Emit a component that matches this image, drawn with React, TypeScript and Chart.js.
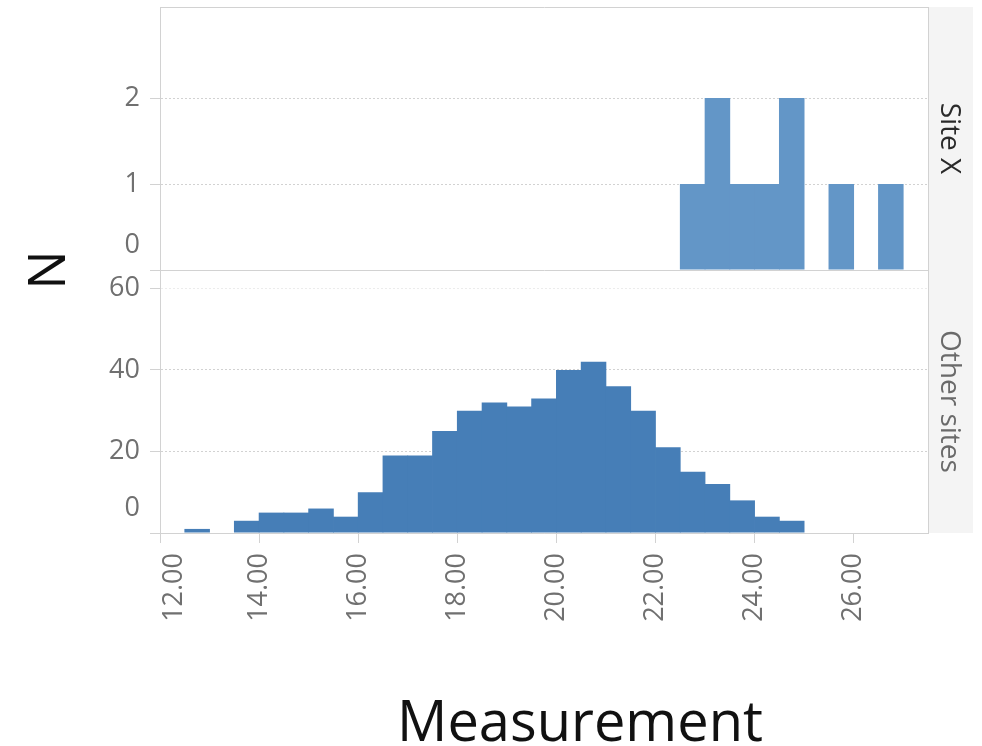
import React, { useEffect, useRef } from 'react';
import { Chart, registerables } from 'chart.js';

Chart.register(...registerables);

// ---------- data ----------
const binWidth = 0.5;

const siteXBinStart = [22.5, 23.0, 23.5, 24.0, 24.5, 25.5, 26.5];
const siteXCounts = [1, 2, 1, 1, 2, 1, 1];

const otherBinStart = [
  12.5, 13.5, 14.0, 14.5, 15.0, 15.5, 16.0, 16.5, 17.0, 17.5, 18.0, 18.5,
  19.0, 19.5, 20.0, 20.5, 21.0, 21.5, 22.0, 22.5, 23.0, 23.5, 24.0, 24.5,
];
const otherCounts = [
  1, 3, 5, 5, 6, 4, 10, 19, 19, 25, 30, 32,
  31, 33, 40, 42, 36, 30, 21, 15, 12, 8, 4, 3,
];

const xTickValues = [12, 14, 16, 18, 20, 22, 24, 26];
const siteXTickValues = [0, 1, 2];
const otherTickValues = [0, 20, 40, 60];

const xMin = 12;
const xMax = 27.5;
const siteXMax = 3.06;
const otherMax = 64.5;

const panelLabels = ['Site X', 'Other sites'];
const xTitle = 'Measurement';
const yTitle = 'N';

// ---------- styles ----------
const FONT = "'Open Sans', 'DejaVu Sans', sans-serif";
const LINE = '#d2d2d2';
const TICK_TEXT = '#707070';

const nudgePlugin = {
  id: 'edgeLabelNudge',
  beforeDraw(chart: any) {
    for (const id of ['ySite', 'yOther']) {
      const s = chart.scales[id];
      if (!s) continue;
      const items = s.getLabelItems();
      for (const it of items) {
        if (it.label === '0' && !it._nudged) {
          it.options.translation[1] -= 25;
          it._nudged = true;
        }
      }
    }
    const xs = chart.scales.x;
    if (xs) {
      const items = xs.getLabelItems();
      if (items[0] && !items[0]._nudged) {
        items[0].options.translation[0] += 14;
        items[0]._nudged = true;
      }
    }
  },
};

const noPad = (s: any) => {
  s.paddingTop = 0;
  s.paddingBottom = 0;
  s.paddingLeft = 0;
  s.paddingRight = 0;
};

const hiddenAxis = (extra: any) => ({
  type: 'linear',
  display: true,
  min: 0,
  max: 1,
  offset: false,
  ticks: { display: false },
  grid: { display: false, drawTicks: false, offset: false },
  border: { display: false },
  ...extra,
});

export default function App() {
  const ref = useRef<HTMLCanvasElement>(null);

  useEffect(() => {
    if (!ref.current) return;
    const dash = (ctx: any) => (ctx.tick && ctx.tick.value === 0 ? [] : [2, 2]);
    const gridColor = (ctx: any) => (ctx.tick && ctx.tick.value === 60 ? '#ececec' : LINE);

    const chart = new Chart(ref.current, {
      type: 'bar',
      data: {
        datasets: [
          {
            label: panelLabels[0],
            data: siteXBinStart.map((b, i) => ({ x: b + binWidth / 2, y: siteXCounts[i] })),
            xAxisID: 'x',
            yAxisID: 'ySite',
            backgroundColor: '#6396c7',
            borderWidth: 0,
            grouped: false,
            barPercentage: 1.03,
            categoryPercentage: 1,
          } as any,
          {
            label: panelLabels[1],
            data: otherBinStart.map((b, i) => ({ x: b + binWidth / 2, y: otherCounts[i] })),
            xAxisID: 'x',
            yAxisID: 'yOther',
            backgroundColor: '#467eb7',
            borderWidth: 0,
            grouped: false,
            barPercentage: 1.03,
            categoryPercentage: 1,
          } as any,
        ],
      },
      options: {
        responsive: false,
        animation: false,
        events: [],
        layout: { padding: { top: 7, right: 9, left: 0, bottom: 0 } },
        plugins: {
          legend: { display: false },
          tooltip: { enabled: false },
          title: { display: false },
        },
        scales: {
          x: {
            type: 'linear',
            position: 'bottom',
            weight: 0,
            min: xMin,
            max: xMax,
            offset: false,
            afterBuildTicks: (s: any) => {
              s.ticks = xTickValues.map((v) => ({ value: v }));
            },
            afterFit: (s: any) => {
              s.height = 151;
              noPad(s);
            },
            ticks: {
              autoSkip: false,
              minRotation: 90,
              maxRotation: 90,
              padding: 10,
              color: TICK_TEXT,
              font: { family: FONT, size: 27 },
              callback: (v: any) => Number(v).toFixed(2),
            },
            grid: {
              display: true,
              offset: false,
              drawOnChartArea: false,
              drawTicks: true,
              tickLength: 10,
              tickColor: LINE,
              color: LINE,
            },
            border: { display: true, color: LINE },
          },
          xTop: hiddenAxis({
            position: 'top',
            border: { display: true, color: LINE },
            afterFit: (s: any) => {
              s.height = 0;
              noPad(s);
            },
          }),
          xPad: hiddenAxis({
            position: 'bottom',
            weight: 1,
            stack: 'ttl',
            stackWeight: 72,
            afterFit: (s: any) => {
              s.height = 62;
              noPad(s);
            },
          }),
          xTtl: hiddenAxis({
            position: 'bottom',
            weight: 1,
            stack: 'ttl',
            stackWeight: 696,
            afterFit: (s: any) => {
              s.height = 62;
              noPad(s);
            },
            title: {
              display: true,
              text: xTitle,
              color: '#111111',
              padding: { top: 0, bottom: 0 },
              font: { family: FONT, size: 56, lineHeight: 0.75 },
            },
          }),
          yOther: {
            type: 'linear',
            position: 'left',
            stack: 'panels',
            stackWeight: 1,
            min: 0,
            max: otherMax,
            afterBuildTicks: (s: any) => {
              s.ticks = otherTickValues.map((v) => ({ value: v }));
            },
            afterFit: (s: any) => {
              s.width = 54;
              noPad(s);
            },
            ticks: {
              padding: 10,
              color: TICK_TEXT,
              font: { family: FONT, size: 27 },
            },
            grid: {
              display: true,
              drawTicks: true,
              tickLength: 10,
              tickColor: LINE,
              color: gridColor,
            },
            border: { display: true, color: LINE, dash: dash },
          },
          ySite: {
            type: 'linear',
            position: 'left',
            stack: 'panels',
            stackWeight: 1,
            min: 0,
            max: siteXMax,
            afterBuildTicks: (s: any) => {
              s.ticks = siteXTickValues.map((v) => ({ value: v }));
            },
            afterFit: (s: any) => {
              s.width = 54;
              noPad(s);
            },
            ticks: {
              padding: 10,
              color: TICK_TEXT,
              font: { family: FONT, size: 27 },
            },
            grid: {
              display: true,
              drawTicks: true,
              tickLength: 10,
              tickColor: LINE,
              color: LINE,
            },
            border: { display: true, color: LINE, dash: dash },
          },
          yTtl: hiddenAxis({
            position: 'left',
            weight: 1,
            afterFit: (s: any) => {
              s.width = 106;
              noPad(s);
            },
            title: {
              display: true,
              text: yTitle,
              color: '#111111',
              padding: { top: 24, bottom: 0 },
              font: { family: FONT, size: 52, lineHeight: 1 },
            },
          }),
          rSite: hiddenAxis({
            position: 'right',
            stack: 'strips',
            stackWeight: 1,
            backgroundColor: '#f4f4f4',
            border: { display: true, color: LINE },
            afterFit: (s: any) => {
              s.width = 45;
              noPad(s);
            },
            title: {
              display: true,
              text: panelLabels[0],
              color: '#2a2a2a',
              padding: { top: 10, bottom: 0 },
              font: { family: FONT, size: 28, lineHeight: 1 },
            },
          }),
          rOther: hiddenAxis({
            position: 'right',
            stack: 'strips',
            stackWeight: 1,
            backgroundColor: '#f4f4f4',
            border: { display: true, color: LINE },
            afterFit: (s: any) => {
              s.width = 45;
              noPad(s);
            },
            title: {
              display: true,
              text: panelLabels[1],
              color: '#6a6a6a',
              padding: { top: 10, bottom: 0 },
              font: { family: FONT, size: 28, lineHeight: 1 },
            },
          }),
        } as any,
      },
      plugins: [nudgePlugin],
    } as any);

    return () => chart.destroy();
  }, []);

  return (
    <div style={{ position: 'absolute', left: 0, top: 0, width: 982, height: 746 }}>
      <canvas ref={ref} width={982} height={746} style={{ display: 'block' }} />
    </div>
  );
}
